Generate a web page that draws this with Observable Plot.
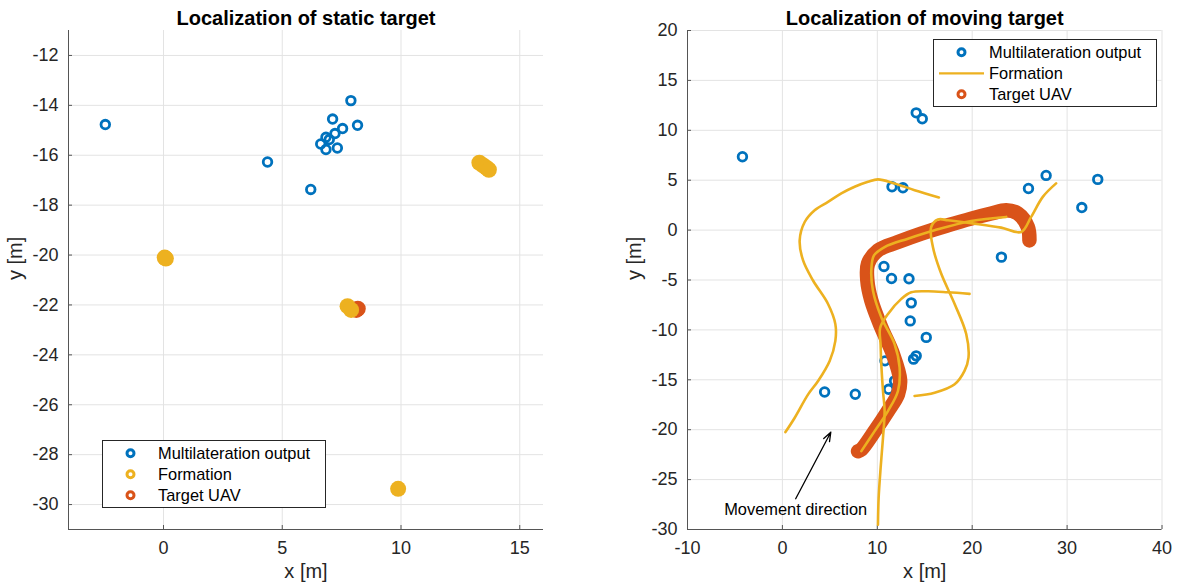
<!DOCTYPE html>
<html><head><meta charset="utf-8">
<script src="https://cdn.jsdelivr.net/npm/d3@7"></script>
<script src="https://cdn.jsdelivr.net/npm/@observablehq/plot@0.6"></script>
<style>
body{margin:0;background:#fff;font-family:"Liberation Sans",Arial,Helvetica,sans-serif;}
#wrap{position:relative;width:1182px;height:587px;overflow:hidden;background:#fff;}
.panel{position:absolute;top:0;}
.legend{position:absolute;}
</style></head><body><div id="wrap">
<div id="left" class="panel" style="left:0px"></div>
<div id="right" class="panel" style="left:592px"></div>
</div>
<script>
// ---------- colours ----------
const blue = "#0072BD", orange = "#D95319", yellow = "#EDB120";

// ---------- static target panel ----------
const staticTitle = "Localization of static target";
const staticXDomain = [-4, 16];
const staticYDomain = [-31, -11];
const staticXTicks = [0, 5, 10, 15];
const staticYTicks = [-30, -28, -26, -24, -22, -20, -18, -16, -14, -12];
const staticMultiX = [-2.45, 4.38, 6.2, 7.89, 7.12, 8.17, 7.54, 7.22, 6.84, 6.98, 6.62, 6.84, 7.32];
const staticMultiY = [-14.77, -16.27, -17.37, -13.81, -14.55, -14.8, -14.93, -15.13, -15.28, -15.37, -15.55, -15.77, -15.71];
const staticFormationX = [0.05, 0.1, 13.3, 13.45, 13.6, 13.7, 7.75, 7.9, 9.88];
const staticFormationY = [-20.1, -20.14, -16.3, -16.4, -16.5, -16.58, -22.05, -22.2, -29.37];
const staticTargetX = [8.12, 8.18];
const staticTargetY = [-22.2, -22.15];

// ---------- moving target panel ----------
const movingTitle = "Localization of moving target";
const movingXDomain = [-10, 40];
const movingYDomain = [-30, 20];
const movingXTicks = [-10, 0, 10, 20, 30, 40];
const movingYTicks = [-30, -25, -20, -15, -10, -5, 0, 5, 10, 15, 20];
const movingMultiX = [-4.21, 14.1, 14.74, 11.55, 12.7, 25.93, 27.79, 33.23, 31.55, 23.08, 10.7, 11.5, 13.34, 13.58, 13.47, 15.16, 14.1, 13.82, 10.81, 4.45, 7.68, 11.19, 11.82];
const movingMultiY = [7.35, 11.75, 11.15, 4.34, 4.24, 4.17, 5.48, 5.08, 2.26, -2.71, -3.64, -4.85, -4.88, -7.29, -9.1, -10.75, -12.6, -12.93, -13.1, -16.22, -16.45, -15.95, -15.11];
const targetX = [7.97, 8.32, 9.72, 11.12, 12.18, 12.4, 11.65, 10.42, 9.37, 8.95, 9.02, 10.07, 12.18, 14.63, 17.44, 19.89, 22.0, 23.58, 24.81, 25.86, 26.03];
const targetY = [-22.15, -21.98, -20.14, -18.13, -16.45, -15.0, -12.43, -9.75, -7.06, -5.05, -3.37, -2.03, -1.2, -0.35, 0.48, 1.15, 1.66, 1.99, 1.66, 0.31, -1.03];
const formationAX = [16.49, 13.93, 11.82, 10.07, 9.02, 7.61, 6.21, 4.81, 3.4, 2.35, 1.82, 2.18, 3.23, 4.81, 5.58, 5.58, 4.98, 3.76, 2.71, 1.3, 0.32];
const formationAY = [3.27, 4.0, 4.67, 5.08, 4.84, 4.34, 3.67, 2.83, 1.99, 0.81, -1.03, -3.04, -5.05, -7.4, -9.42, -11.1, -13.11, -15.12, -16.46, -18.8, -20.24];
const formationBX = [28.84, 27.44, 26.21, 25.16, 23.05, 20.24, 17.44, 16.39, 15.68, 15.86, 16.74, 18.15, 19.37, 19.61, 19.19, 18.15, 16.04, 13.93];
const formationBY = [4.68, 3.33, 1.32, -0.19, 0.25, 0.65, 0.99, 1.06, 0.31, -1.7, -4.38, -7.4, -10.41, -12.77, -14.1, -15.44, -16.29, -16.62];
const formationCX = [19.72, 17.44, 15.34, 13.58, 12.53, 11.13, 10.3, 10.35, 10.42, 10.6, 10.77, 10.6, 10.35, 10.14, 10.07];
const formationCY = [-6.39, -6.23, -6.13, -6.23, -6.89, -8.4, -9.8, -11.5, -13.4, -16.12, -18.13, -20.82, -23.83, -26.85, -29.53];
const formationDX = [8.32, 9.72, 11.12, 12.18, 12.35, 11.82, 10.42, 9.54, 9.37, 9.65, 10.77, 13.23, 16.03, 19.89, 23.58];
const formationDY = [-22.15, -20.14, -18.13, -16.12, -13.77, -11.42, -8.74, -6.06, -4.04, -2.54, -1.7, -0.86, -0.02, 0.92, 1.32];
const arrowTail = [1.4, -26.92];
const arrowHead = [5.1, -20.25];
const annotationText = "Movement direction";
const annotationPos = [1.4, -28.0];

// ---------- labels / legend ----------
const xLabel = "x [m]", yLabel = "y [m]";
const legendLabels = ["Multilateration output", "Formation", "Target UAV"];

// ---------- helpers ----------
const pts = (xs, ys) => xs.map((x, i) => ({x, y: ys[i]}));
const fmt = d => String(d);

function frameMarks(xDom, yDom, xTicks, yTicks, title) {
  return [
    Plot.gridX(xTicks, {stroke: "#e3e3e3", strokeOpacity: 1}),
    Plot.gridY(yTicks, {stroke: "#e3e3e3", strokeOpacity: 1}),
    Plot.axisX(xTicks, {tickSize: -4, tickPadding: 16, tickFormat: fmt, label: null, stroke: "#555", fill: "#262626", fontSize: 18}),
    Plot.axisY(yTicks, {tickSize: -4, tickPadding: 14, tickFormat: fmt, label: null, stroke: "#555", fill: "#262626", fontSize: 18}),
    Plot.ruleX([xDom[0]], {stroke: "#555"}),
    Plot.ruleY([yDom[0]], {stroke: "#555"}),
    Plot.text([title], {text: d => d, frameAnchor: "top", lineAnchor: "bottom", dy: -6, fontWeight: "bold", fontSize: 20, fill: "#000"}),
    Plot.text([xLabel], {text: d => d, frameAnchor: "bottom", lineAnchor: "bottom", dy: 48, fontSize: 20, fill: "#262626"}),
    Plot.text([yLabel], {text: d => d, frameAnchor: "left", rotate: -90, lineAnchor: "bottom", dx: -47, fontSize: 20, fill: "#262626"})
  ];
}

const baseStyle = {fontFamily: '"Liberation Sans", Arial, sans-serif', fontSize: "18px", color: "#262626", background: "#fff", overflow: "visible"};

// ---------- left plot ----------
const leftPlot = Plot.plot({
  width: 592, height: 587,
  marginLeft: 68, marginRight: 49, marginTop: 30, marginBottom: 58,
  style: baseStyle,
  x: {domain: staticXDomain},
  y: {domain: staticYDomain},
  marks: [
    ...frameMarks(staticXDomain, staticYDomain, staticXTicks, staticYTicks, staticTitle),
    Plot.dot(pts(staticMultiX, staticMultiY), {x: "x", y: "y", r: 4.3, stroke: blue, strokeWidth: 2.8, fill: "none"}),
    Plot.dot(pts(staticTargetX, staticTargetY), {x: "x", y: "y", r: 8, fill: orange}),
    Plot.dot(pts(staticFormationX, staticFormationY), {x: "x", y: "y", r: 8, fill: yellow})
  ]
});
document.getElementById("left").appendChild(leftPlot);

// ---------- right plot ----------
const formationTable = [
  ...pts(formationAX, formationAY).map(d => ({...d, drone: "A"})),
  ...pts(formationBX, formationBY).map(d => ({...d, drone: "B"})),
  ...pts(formationCX, formationCY).map(d => ({...d, drone: "C"})),
  ...pts(formationDX, formationDY).map(d => ({...d, drone: "D"}))
];
const rightPlot = Plot.plot({
  width: 590, height: 587,
  marginLeft: 95, marginRight: 20.5, marginTop: 30, marginBottom: 58,
  style: baseStyle,
  x: {domain: movingXDomain},
  y: {domain: movingYDomain},
  marks: [
    ...frameMarks(movingXDomain, movingYDomain, movingXTicks, movingYTicks, movingTitle),
    Plot.dot(pts(movingMultiX, movingMultiY), {x: "x", y: "y", r: 4.3, stroke: blue, strokeWidth: 2.8, fill: "none"}),
    Plot.line(pts(targetX, targetY), {x: "x", y: "y", stroke: orange, strokeWidth: 14.5, strokeLinecap: "round", strokeLinejoin: "round", curve: "catmull-rom"}),
    Plot.line(formationTable, {x: "x", y: "y", z: "drone", stroke: yellow, strokeWidth: 2.6, curve: "catmull-rom"}),
    Plot.arrow([{x1: arrowTail[0], y1: arrowTail[1], x2: arrowHead[0], y2: arrowHead[1]}], {x1: "x1", y1: "y1", x2: "x2", y2: "y2", stroke: "#000", strokeWidth: 1.3, headLength: 11, headAngle: 40}),
    Plot.text([annotationText], {x: () => annotationPos[0], y: () => annotationPos[1], text: d => d, fontSize: 16.4, fill: "#000"})
  ]
});
document.getElementById("right").appendChild(rightPlot);

// ---------- legends (HTML overlays) ----------
function makeLegend(left, top, kinds) {
  const colors = [blue, yellow, orange];
  const w = 224, h = 68;
  const div = document.createElement("div");
  div.className = "legend";
  div.style.left = left + "px"; div.style.top = top + "px";
  let s = `<svg width="${w}" height="${h}" style="display:block"><rect x="0.5" y="0.5" width="${w-1}" height="${h-1}" fill="#fff" stroke="#262626" stroke-width="1"/>`;
  legendLabels.forEach((lab, i) => {
    const cy = 13.3 + 21 * i;
    if (kinds[i] === "line") {
      s += `<line x1="6" x2="51" y1="${cy}" y2="${cy}" stroke="${colors[i]}" stroke-width="2.2"/>`;
    } else {
      s += `<circle cx="28.5" cy="${cy}" r="3.5" fill="none" stroke="${colors[i]}" stroke-width="3"/>`;
    }
    s += `<text x="56" y="${cy}" dy="0.35em" font-size="16.4" fill="#000" font-family="Liberation Sans, Arial, sans-serif">${lab}</text>`;
  });
  s += `</svg>`;
  div.innerHTML = s;
  document.getElementById("wrap").appendChild(div);
}
makeLegend(102, 440, ["dot", "dot", "dot"]);
makeLegend(933, 39, ["dot", "line", "dot"]);
</script>
</body></html>
